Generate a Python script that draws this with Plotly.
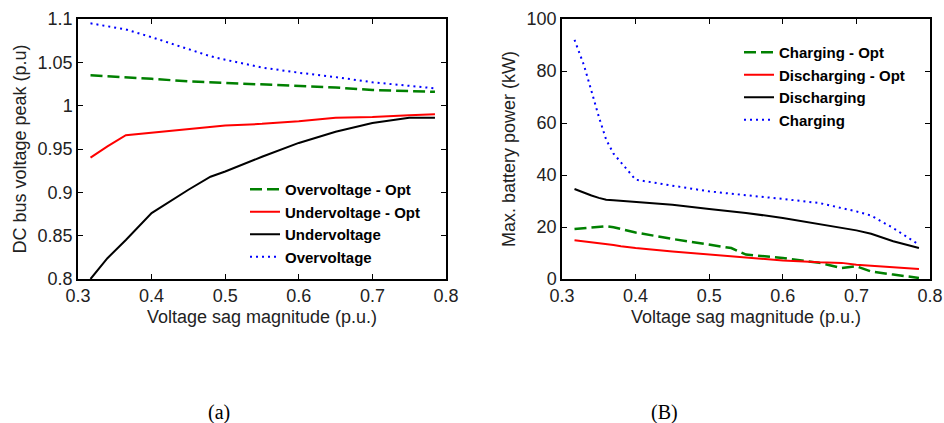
import plotly.graph_objects as go

# ---------------- data (a) ----------------
sag_a = [0.317, 0.34, 0.365, 0.4, 0.45, 0.48, 0.5, 0.55, 0.6, 0.65, 0.7, 0.75, 0.785]
over_opt = [1.035, 1.034, 1.033, 1.031, 1.028, 1.027, 1.026, 1.025, 1.023, 1.021, 1.018, 1.017, 1.016]
under_opt = [0.940, 0.953, 0.966, 0.969, 0.973, 0.975, 0.977, 0.979, 0.982, 0.986, 0.987, 0.989, 0.990]
under = [0.800, 0.824, 0.845, 0.876, 0.903, 0.918, 0.924, 0.941, 0.957, 0.970, 0.980, 0.986, 0.986]
over = [1.095, 1.092, 1.088, 1.079, 1.065, 1.057, 1.053, 1.044, 1.038, 1.033, 1.027, 1.023, 1.020]

# ---------------- data (B) ----------------
sag_b = [0.317, 0.33, 0.34, 0.35, 0.36, 0.37, 0.38, 0.4, 0.45, 0.5, 0.53, 0.55, 0.6, 0.65, 0.68, 0.7, 0.72, 0.75, 0.785]
charging_opt = [19.2, 19.6, 19.9, 20.1, 20.3, 19.9, 19.2, 17.9, 15.4, 13.2, 11.9, 9.4, 8.1, 6.2, 4.2, 4.9, 2.9, 1.7, 0.4]
discharging_opt = [14.9, 14.5, 14.1, 13.7, 13.3, 13.1, 12.6, 11.9, 10.6, 9.4, 8.7, 8.1, 7.1, 6.4, 6.2, 5.5, 5.1, 4.6, 3.8]
discharging = [34.6, 33.1, 32.1, 31.2, 30.5, 30.3, 30.1, 29.7, 28.6, 26.9, 26.0, 25.4, 23.5, 21.2, 19.9, 18.7, 17.4, 14.5, 11.9]
charging = [92.0, 82.1, 72.3, 62.4, 53.6, 48.2, 44.9, 38.2, 35.9, 33.7, 32.8, 32.3, 30.8, 29.2, 27.3, 26.0, 24.4, 19.6, 13.2]

x_ticks = [0.3, 0.4, 0.5, 0.6, 0.7, 0.8]
x_tick_text = ["0.3", "0.4", "0.5", "0.6", "0.7", "0.8"]
ya_ticks = [0.8, 0.85, 0.9, 0.95, 1.0, 1.05, 1.1]
ya_tick_text = ["0.8", "0.85", "0.9", "0.95", "1", "1.05", "1.1"]
yb_ticks = [0, 20, 40, 60, 80, 100]
yb_tick_text = ["0", "20", "40", "60", "80", "100"]

GREEN = "#008000"
RED = "#FF0000"
BLACK = "#000000"
BLUE = "#0000FF"
DASHED = "12px,5px"
DOTTED = "2px,4px"

fig = go.Figure()

def add(x, y, name, color, dash, width, xa, ya, legend, group):
    fig.add_trace(go.Scatter(
        x=x, y=y, name=name, mode="lines",
        line=dict(color=color, dash=dash, width=width),
        xaxis=xa, yaxis=ya, legend=legend, legendgroup=group,
    ))

add(sag_a, over_opt, "Overvoltage - Opt", GREEN, DASHED, 2.5, "x", "y", "legend", "a1")
add(sag_a, under_opt, "Undervoltage - Opt", RED, "solid", 2, "x", "y", "legend", "a2")
add(sag_a, under, "Undervoltage", BLACK, "solid", 2, "x", "y", "legend", "a3")
add(sag_a, over, "Overvoltage", BLUE, DOTTED, 2, "x", "y", "legend", "a4")

add(sag_b, charging_opt, "Charging - Opt", GREEN, DASHED, 2.5, "x2", "y2", "legend2", "b1")
add(sag_b, discharging_opt, "Discharging - Opt", RED, "solid", 2, "x2", "y2", "legend2", "b2")
add(sag_b, discharging, "Discharging", BLACK, "solid", 2, "x2", "y2", "legend2", "b3")
add(sag_b, charging, "Charging", BLUE, DOTTED, 2, "x2", "y2", "legend2", "b4")

FONT = "Arial, Liberation Sans, sans-serif"
TXT = "#222222"

axis_common = dict(
    showline=True, linecolor="black", linewidth=1.5, mirror="ticks",
    ticks="inside", ticklen=5, tickcolor="black", tickwidth=1,
    showgrid=False, zeroline=False, automargin=False,
    tickfont=dict(family=FONT, size=18, color=TXT),
    title_font=dict(family=FONT, size=18, color=TXT),
)

W, H = 944, 423
def dx(px):
    return px / W
def dy(py):
    return 1 - py / H

legend_common = dict(
    font=dict(family=FONT, size=15, color="black", weight="bold"),
    bgcolor="rgba(0,0,0,0)", borderwidth=0,
    xanchor="left", yanchor="top", tracegroupgap=0,
)

fig.update_layout(
    width=W, height=H,
    margin=dict(l=0, r=0, t=0, b=0, autoexpand=False),
    paper_bgcolor="white", plot_bgcolor="white",
    showlegend=True,
    xaxis=dict(domain=[dx(78), dx(446)], range=[0.3, 0.8], tickvals=x_ticks, ticktext=x_tick_text,
               anchor="y", title=dict(text="Voltage sag magnitude (p.u.)", standoff=5), **axis_common),
    yaxis=dict(domain=[dy(279), dy(19)], range=[0.8, 1.1], tickvals=ya_ticks, ticktext=ya_tick_text,
               anchor="x", title=dict(text="DC bus voltage peak (p.u)", standoff=6), **axis_common),
    xaxis2=dict(domain=[dx(562), dx(930)], range=[0.3, 0.8], tickvals=x_ticks, ticktext=x_tick_text,
                anchor="y2", title=dict(text="Voltage sag magnitude (p.u.)", standoff=5), **axis_common),
    yaxis2=dict(domain=[dy(279), dy(19)], range=[0, 100], tickvals=yb_ticks, ticktext=yb_tick_text,
                anchor="x2", title=dict(text="Max. battery power (kW)", standoff=6), **axis_common),
    legend=dict(x=dx(245), y=dy(173), **legend_common),
    legend2=dict(x=dx(739), y=dy(36), **legend_common),
    annotations=[
        dict(text="(a)", x=dx(219), y=dy(412), xref="paper", yref="paper", showarrow=False,
             xanchor="center", yanchor="middle",
             font=dict(family="Liberation Serif, Times New Roman, serif", size=20, color="black")),
        dict(text="(B)", x=dx(664), y=dy(412), xref="paper", yref="paper", showarrow=False,
             xanchor="center", yanchor="middle",
             font=dict(family="Liberation Serif, Times New Roman, serif", size=20, color="black")),
    ],
)

fig.write_html("out.html", config={"displayModeBar": False},
               post_script="document.body.style.margin='0';document.body.style.overflow='hidden';")
